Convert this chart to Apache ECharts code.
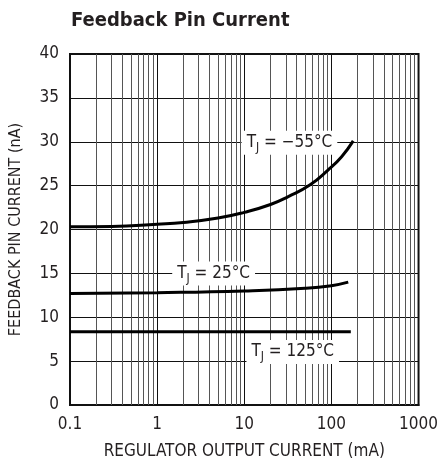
<!DOCTYPE html>
<html>
<head>
<meta charset="utf-8">
<script src="https://cdn.jsdelivr.net/npm/echarts@6/dist/echarts.min.js"></script>
<style>
html,body{margin:0;padding:0;background:#fff;}
#c{width:441px;height:473px;}
</style>
</head>
<body>
<div id="c"></div>
<script>
// ---- data ----
var xTicks = [0.1, 1, 10, 100, 1000];
var minorGrid = [0.2,0.3,0.4,0.5,0.6,0.7,0.8,0.9, 2,3,4,5,6,7,8,9, 20,30,40,50,60,70,80,90, 200,300,400,500,600,700,800,900];
var majorGrid = [1, 10, 100];
var curveM55 = [[0.1,20.3],[0.3,20.35],[1,20.6],[2,20.8],[5,21.3],[10,21.95],[20,22.85],[32,23.75],[57,25.1],[92,26.8],[131,28.3],[178,30.1]];
var curve25 = [[0.1,12.7],[1,12.8],[10,13.0],[50,13.3],[100,13.6],[156,14.0]];
var curve125 = [[0.1,8.35],[167,8.35]];
var labelPos = [
  {value:[33, 29.9], t:'−55°C'},
  {value:[4.45, 15.0], t:'25°C'},
  {value:[36, 6.05], t:'125°C'}
];

var FONT = '"Liberation Sans Narrow","DejaVu Sans Condensed","Roboto Condensed","Liberation Sans",sans-serif';
var INK = '#231f20';

var chart = echarts.init(document.getElementById('c'), null, {renderer:'canvas'});

function curve(d){
  return {type:'line', data:d, smooth:0.5, symbol:'none',
    lineStyle:{color:'#000', width:3}, z:5, silent:true};
}

var option = {
  animation:false,
  backgroundColor:'#fff',
  title:{
    text:'Feedback Pin Current', left:66, top:6,
    textStyle:{fontFamily:FONT, fontWeight:'bold', fontSize:20, color:INK}
  },
  grid:{left:69, right:20, top:54, bottom:68, show:true, borderColor:'#111', borderWidth:2, backgroundColor:'transparent'},
  xAxis:{
    type:'log', logBase:10, min:0.1, max:1000,
    name:'REGULATOR OUTPUT CURRENT (mA)', nameLocation:'middle', nameGap:38,
    nameTextStyle:{fontFamily:FONT, fontSize:17, color:INK},
    axisLine:{show:true, lineStyle:{color:'#111', width:2}},
    axisTick:{show:false},
    splitLine:{show:false},
    axisLabel:{fontFamily:FONT, fontSize:17, color:INK, margin:11,
      formatter:function(v){ return xTicks.indexOf(+v.toPrecision(3))>=0 ? String(+v.toPrecision(3)) : ''; }}
  },
  yAxis:{
    type:'value', min:0, max:40, interval:5,
    name:'FEEDBACK PIN CURRENT (nA)', nameLocation:'middle', nameGap:46,
    nameTextStyle:{fontFamily:FONT, fontSize:16, color:INK},
    axisLine:{show:true, lineStyle:{color:'#111', width:2}},
    axisTick:{show:false},
    splitLine:{show:true, lineStyle:{color:'#111', width:1}},
    axisLabel:{fontFamily:FONT, fontSize:17, color:INK, margin:11}
  },
  series:[
    {type:'line', data:[], silent:true,
      markLine:{silent:true, symbol:'none', label:{show:false},
        lineStyle:{color:'#555', width:1, type:'solid'},
        data:minorGrid.map(function(v){return {xAxis:v};})}},
    {type:'line', data:[], silent:true,
      markLine:{silent:true, symbol:'none', label:{show:false},
        lineStyle:{color:'#111', width:1, type:'solid'},
        data:majorGrid.map(function(v){return {xAxis:v};})}},
    curve(curveM55),
    curve(curve25),
    curve(curve125),
    {type:'scatter', symbolSize:0, z:10, silent:true,
      itemStyle:{color:'#fff', opacity:1},
      data:labelPos.map(function(p){ return {value:p.value, name:p.t}; }),
      label:{show:true, position:'inside', align:'center', verticalAlign:'middle',
        color:INK, textBorderWidth:0, textBorderColor:'transparent', opacity:1,
        backgroundColor:'#fff', padding:[1,5,1,5],
        formatter:function(p){ return '{t|T}{s|J}{t| = ' + p.name + '}'; },
        rich:{
          t:{fontFamily:FONT, fontSize:17, color:INK, textBorderWidth:0},
          s:{fontFamily:FONT, fontSize:12, color:INK, textBorderWidth:0, padding:[10,0,0,0]}
        }
      },
      emphasis:{disabled:true}
    }
  ]
};
chart.setOption(option);
</script>
</body>
</html>
